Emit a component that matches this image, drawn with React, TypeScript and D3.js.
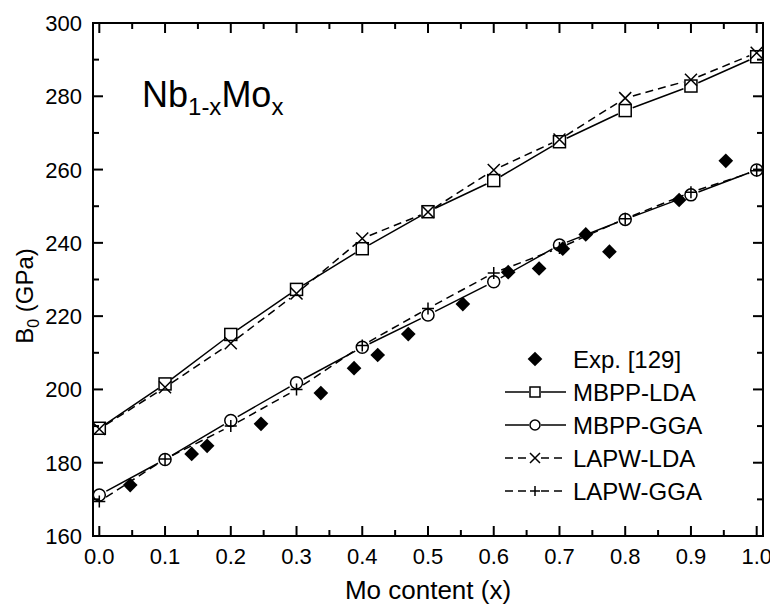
import React from 'react';
import * as d3 from 'd3';

const xs = [0, 0.1, 0.2, 0.3, 0.4, 0.5, 0.6, 0.7, 0.8, 0.9, 1.0];
const mbppLda = [189.4, 201.5, 215.0, 227.3, 238.4, 248.5, 257.0, 267.6, 276.1, 282.8, 290.8];
const lapwLda = [189.2, 200.6, 212.6, 226.2, 241.2, 248.4, 259.9, 268.2, 279.5, 284.5, 291.9];
const mbppGga = [171.2, 180.9, 191.5, 201.8, 211.5, 220.3, 229.4, 239.4, 246.4, 253.1, 259.9];
const lapwGga = [169.4, 181.0, 190.0, 200.0, 212.0, 222.1, 231.8, 238.6, 246.6, 253.8, 259.7];
const expX = [0.047, 0.1405, 0.164, 0.246, 0.337, 0.3875, 0.4235, 0.47, 0.553, 0.622, 0.669, 0.705, 0.74, 0.776, 0.882, 0.953];
const expY = [173.9, 182.4, 184.6, 190.6, 199.0, 205.8, 209.4, 215.1, 223.3, 232.0, 233.0, 238.4, 242.3, 237.6, 251.7, 262.4];
const xTickLabels = ['0.0', '0.1', '0.2', '0.3', '0.4', '0.5', '0.6', '0.7', '0.8', '0.9', '1.0'];
const yTickValues = [160, 180, 200, 220, 240, 260, 280, 300];
const legendLabels = ['Exp. [129]', 'MBPP-LDA', 'MBPP-GGA', 'LAPW-LDA', 'LAPW-GGA'];

const FONT = '"Liberation Sans", Arial, Helvetica, sans-serif';
const L = 93, R = 763, T = 23, B = 536;

const x = d3.scaleLinear().domain([-0.0096, 1.0096]).range([L, R]);
const y = d3.scaleLinear().domain([160, 300]).range([B, T]);

function gapSegments(vals: number[], gap: number): string {
  let d = '';
  for (let i = 0; i < vals.length - 1; i++) {
    const x1 = x(xs[i]), y1 = y(vals[i]);
    const x2 = x(xs[i + 1]), y2 = y(vals[i + 1]);
    const dx = x2 - x1, dy = y2 - y1;
    const len = Math.hypot(dx, dy);
    const ux = dx / len, uy = dy / len;
    d += `M${x1 + ux * gap},${y1 + uy * gap}L${x2 - ux * gap},${y2 - uy * gap}`;
  }
  return d;
}

type Kind = 'square' | 'circle' | 'cross' | 'plus' | 'diamond';
function Marker({ kind, cx, cy, s }: { kind: Kind; cx: number; cy: number; s: number }) {
  const h = s / 2;
  const st = { stroke: '#000', strokeWidth: 1.5 };
  if (kind === 'square') return <rect x={cx - h} y={cy - h} width={s} height={s} fill="none" {...st} />;
  if (kind === 'circle') return <circle cx={cx} cy={cy} r={h} fill="none" {...st} />;
  if (kind === 'cross') return <path d={`M${cx - h},${cy - h}L${cx + h},${cy + h}M${cx - h},${cy + h}L${cx + h},${cy - h}`} fill="none" {...st} />;
  if (kind === 'plus') return <path d={`M${cx - h},${cy}L${cx + h},${cy}M${cx},${cy - h}L${cx},${cy + h}`} fill="none" {...st} />;
  const r = h * 1.05;
  return <path d={`M${cx},${cy - r}L${cx + r},${cy}L${cx},${cy + r}L${cx - r},${cy}Z`} fill="#000" stroke="none" />;
}

const series: { vals: number[]; kind: Kind; dash: string | undefined }[] = [
  { vals: mbppLda, kind: 'square', dash: undefined },
  { vals: mbppGga, kind: 'circle', dash: undefined },
  { vals: lapwLda, kind: 'cross', dash: '8,5' },
  { vals: lapwGga, kind: 'plus', dash: '8,5' },
];

export default function App() {
  const majorX = d3.range(0, 11).map((i) => i / 10);
  const minorX = d3.range(0, 10).map((i) => i / 10 + 0.05);
  const minorY = d3.range(170, 300, 20);
  const legendY = [359, 392, 425, 458, 491];
  const legendKinds: Kind[] = ['diamond', 'square', 'circle', 'cross', 'plus'];
  return (
    <svg width={770} height={608} style={{ position: 'absolute', left: 0, top: 0, background: '#fff' }} fontFamily={FONT}>
      <rect x={0} y={0} width={770} height={608} fill="#fff" />
      {series.map((s, i) => (
        <path key={'l' + i} d={gapSegments(s.vals, 8)} fill="none" stroke="#000" strokeWidth={1.5} strokeDasharray={s.dash} />
      ))}
      {series.map((s, i) =>
        s.vals.map((v, j) => <Marker key={`m${i}-${j}`} kind={s.kind} cx={x(xs[j])} cy={y(v)} s={12} />)
      )}
      {expX.map((xv, j) => (
        <Marker key={'e' + j} kind="diamond" cx={x(xv)} cy={y(expY[j])} s={14} />
      ))}
      {majorX.map((v) => (
        <g key={'tx' + v}>
          <line x1={x(v)} x2={x(v)} y1={B} y2={B - 10} stroke="#000" strokeWidth={2} />
          <line x1={x(v)} x2={x(v)} y1={T} y2={T + 10} stroke="#000" strokeWidth={2} />
        </g>
      ))}
      {minorX.map((v) => (
        <g key={'mx' + v}>
          <line x1={x(v)} x2={x(v)} y1={B} y2={B - 6} stroke="#000" strokeWidth={2} />
          <line x1={x(v)} x2={x(v)} y1={T} y2={T + 6} stroke="#000" strokeWidth={2} />
        </g>
      ))}
      {yTickValues.map((v) => (
        <g key={'ty' + v}>
          <line x1={L} x2={L + 10} y1={y(v)} y2={y(v)} stroke="#000" strokeWidth={2} />
          <line x1={R} x2={R - 10} y1={y(v)} y2={y(v)} stroke="#000" strokeWidth={2} />
        </g>
      ))}
      {minorY.map((v) => (
        <g key={'my' + v}>
          <line x1={L} x2={L + 6} y1={y(v)} y2={y(v)} stroke="#000" strokeWidth={2} />
          <line x1={R} x2={R - 6} y1={y(v)} y2={y(v)} stroke="#000" strokeWidth={2} />
        </g>
      ))}
      <rect x={L} y={T} width={R - L} height={B - T} fill="none" stroke="#000" strokeWidth={2} />
      {majorX.map((v, i) => (
        <text key={'lx' + i} x={x(v)} y={564} fontSize={22} textAnchor="middle">{xTickLabels[i]}</text>
      ))}
      {yTickValues.map((v) => (
        <text key={'ly' + v} x={82} y={y(v) + 8} fontSize={22} textAnchor="end">{v}</text>
      ))}
      <text x={(L + R) / 2} y={599} fontSize={26} textAnchor="middle">Mo content (x)</text>
      <text transform="translate(33,296) rotate(-90)" fontSize={24} textAnchor="middle">
        B<tspan fontSize={16} dy={6}>0</tspan><tspan dy={-6}> (GPa)</tspan>
      </text>
      <text x={142} y={107} fontSize={36}>
        Nb<tspan fontSize={24} dy={8}>1-x</tspan><tspan dy={-8}>Mo</tspan><tspan fontSize={24} dy={8}>x</tspan>
      </text>
      {legendLabels.map((lab, i) => {
        const ly = legendY[i];
        const k = legendKinds[i];
        const dashed = k === 'cross' || k === 'plus';
        return (
          <g key={'lg' + i}>
            {i > 0 && (
              <>
                <line x1={505} x2={529} y1={ly} y2={ly} stroke="#000" strokeWidth={1.5} strokeDasharray={dashed ? '8,5' : undefined} />
                <line x1={541} x2={566} y1={ly} y2={ly} stroke="#000" strokeWidth={1.5} strokeDasharray={dashed ? '8,5' : undefined} />
              </>
            )}
            <Marker kind={k} cx={535} cy={ly} s={i === 0 ? 14 : 10} />
            <text x={573} y={ly + 8.5} fontSize={24}>{lab}</text>
          </g>
        );
      })}
    </svg>
  );
}
